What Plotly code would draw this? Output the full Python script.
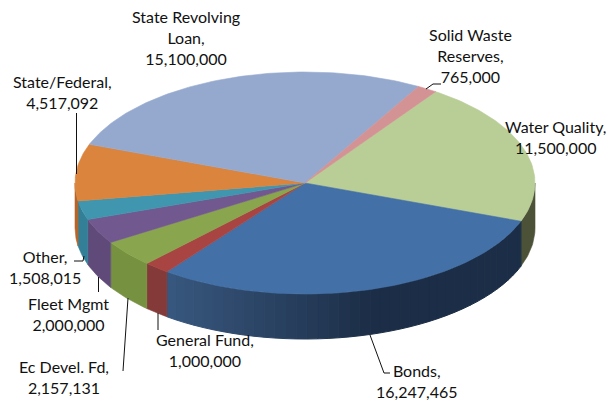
import math
import plotly.graph_objects as go

categories = ["Water Quality", "Bonds", "General Fund", "Ec Devel. Fd", "Fleet Mgmt",
              "Other", "State/Federal", "State Revolving Loan", "Solid Waste Reserves"]
values = [11500000, 16247465, 1000000, 2157131, 2000000, 1508015, 4517092, 15100000, 765000]
label_texts = ["Water Quality,", "Bonds,", "General Fund,", "Ec Devel. Fd,", "Fleet Mgmt",
               "Other,", "State/Federal,", "State Revolving<br>Loan,", "Solid Waste<br>Reserves,"]

top_colors = ["#b9cd96", "#4370a6", "#a84542", "#89a54e", "#71588f", "#4096ae", "#db843d", "#95a9cf", "#d39294"]
wall_colors = ["#4b5237", "#38587f", "#843a38", "#76913f", "#5f4a7a", "#337f97", "#b5652a", "#7a8cb0", "#b07a7b"]
BONDS_DARK = "#1c2e47"

CX, CY, RX, RY, DEPTH = 305, 183, 230, 111, 45
START_DEG = 55.4

# label anchor (centre x, centre y) and leader line, in picture pixels
label_pos = [(555, 137), (417, 381), (205, 350), (64, 377), (68, 314), (45, 267), (62, 92), (186, 37), (470, 55)]
leaders = [None,
           [(370, 335), (384, 373), (390, 373)],
           [(158, 313), (158, 330)],
           [(128, 298), (123, 371)],
           [(98.5, 277), (98.5, 292)],
           [(74, 261), (83, 261), (84, 256)],
           [(76.5, 113), (76.5, 174)],
           None,
           [(426, 89), (433, 84), (441, 84)]]


def pt(deg, dy=0):
    a = math.radians(deg)
    return CX + RX * math.cos(a), CY - RY * math.sin(a) + dy


def arc(a, b, dy=0, step=1.0):
    n = max(2, int(abs(b - a) / step) + 1)
    return [pt(a + (b - a) * i / (n - 1), dy) for i in range(n)]


def hex_rgb(h):
    return tuple(int(h[i:i + 2], 16) for i in (1, 3, 5))


def mix(c1, c2, f):
    a, b = hex_rgb(c1), hex_rgb(c2)
    return "rgb(%d,%d,%d)" % tuple(round(x + (y - x) * f) for x, y in zip(a, b))


def poly(points, color, lw=0.6):
    xs, ys = zip(*points)
    return go.Scatter(x=list(xs) + [xs[0]], y=list(ys) + [ys[0]], mode="lines", fill="toself",
                      fillcolor=color, line=dict(color=color, width=lw), hoverinfo="skip", showlegend=False)


total = sum(values)
spans = []
cur = START_DEG
for v in values:
    nxt = cur - v / total * 360
    spans.append((cur, nxt))
    cur = nxt

fig = go.Figure()

# side walls: only the part of each slice on the front half of the ellipse
for i, (a, b) in enumerate(spans):
    hi2, lo2 = min(a, 0), max(b, -180)
    if hi2 > lo2:
        if categories[i] == "Bonds":
            n = 40
            for k in range(n):
                s = hi2 + (lo2 - hi2) * k / n
                e = hi2 + (lo2 - hi2) * (k + 1) / n
                xm = pt((s + e) / 2)[0]
                f = min(1, max(0, (370 - xm) / (370 - 167)))
                fig.add_trace(poly(arc(s, e) + arc(e, s, DEPTH), mix(BONDS_DARK, wall_colors[i], f), 1))
        else:
            fig.add_trace(poly(arc(hi2, lo2) + arc(lo2, hi2, DEPTH), wall_colors[i]))

# top faces
for i, (a, b) in enumerate(spans):
    fig.add_trace(poly([(CX, CY)] + arc(a, b), top_colors[i]))

# leader lines
for ld in leaders:
    if ld:
        xs, ys = zip(*ld)
        fig.add_trace(go.Scatter(x=xs, y=ys, mode="lines", line=dict(color="#111111", width=1),
                                 hoverinfo="skip", showlegend=False))

# labels
for txt, v, (x, y) in zip(label_texts, values, label_pos):
    fig.add_annotation(x=x, y=y, text=f"{txt}<br>{v:,}", showarrow=False, xanchor="center", yanchor="middle",
                       font=dict(family="Lato", size=16, color="#111111"), align="center")

fig.update_xaxes(range=[0, 608], visible=False, fixedrange=True)
fig.update_yaxes(range=[401, 0], visible=False, fixedrange=True)
fig.update_layout(width=608, height=401, margin=dict(l=0, r=0, t=0, b=0),
                  paper_bgcolor="white", plot_bgcolor="white", showlegend=False)
fig.write_html("out.html", config=dict(displayModeBar=False),
               post_script="document.body.style.margin='0';document.documentElement.style.overflow='hidden';")
